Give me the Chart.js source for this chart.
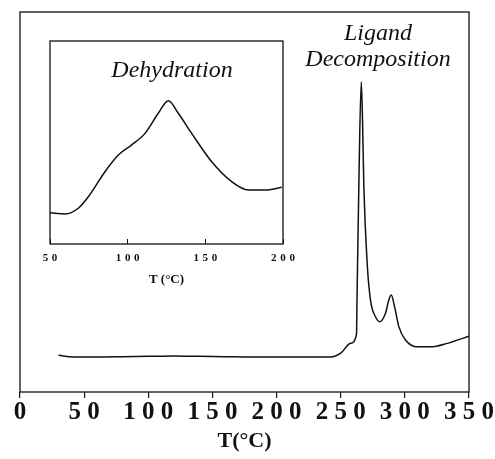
<!DOCTYPE html>
<html>
<head>
<meta charset="utf-8">
<script src="https://cdn.jsdelivr.net/npm/chart.js@4"></script>
<style>
  body { margin: 0; background: #fff; }
  #wrap { position: relative; width: 495px; height: 459px; }
  #mainChart { position: absolute; left: 0; top: 0; }
  #insetChart { position: absolute; left: 30px; top: 30px; }
</style>
</head>
<body>
<div id="wrap">
  <canvas id="mainChart" width="495" height="459"></canvas>
  <canvas id="insetChart" width="265" height="262"></canvas>
</div>
<script>
// main DSC trace
const mainTemp = [30, 42, 60, 80, 100, 120, 140, 160, 180, 200, 220, 242, 250, 257.6, 262.3, 262.7, 264.2, 266.0, 267.0, 268.0, 270.6, 273.2, 277.1, 280.5, 284.9, 287.5, 289.4, 292.0, 295.3, 300.5, 309.7, 320.1, 333.1, 350];
const mainSignal = [9.7, 9.2, 9.2, 9.3, 9.4, 9.5, 9.4, 9.3, 9.2, 9.2, 9.2, 9.2, 10.2, 12.8, 15.2, 24.2, 55.8, 81.6, 71.6, 54.5, 34.0, 24.2, 19.8, 18.5, 20.7, 24.2, 25.5, 22.4, 17.2, 13.7, 11.9, 11.9, 12.8, 14.7];
const mainTicks = [0, 50, 100, 150, 200, 250, 300, 350];

// inset: dehydration region
const insetTemp = [50, 59.7, 68.2, 74.7, 85.4, 94.0, 102.6, 111.2, 119.7, 126.2, 132.6, 141.2, 154.1, 167.0, 177.7, 188.4, 199.2];
const insetSignal = [15.4, 14.8, 17.6, 23.3, 35.6, 43.8, 48.8, 54.5, 64.4, 70.6, 64.4, 54.5, 40.5, 30.7, 26.6, 26.6, 27.9];
const insetTicks = [50, 100, 150, 200];

// digits printed with gaps, like the original
const spaced = (v, gap) => String(v).split('').join(gap);

// box round the plot area
const frame = {
  id: 'frame',
  afterDraw(chart) {
    const a = chart.chartArea, c = chart.ctx;
    c.save();
    c.strokeStyle = '#111';
    c.lineWidth = 1.3;
    c.strokeRect(a.left, a.top, a.right - a.left, a.bottom - a.top);
    c.restore();
  }
};

const labels = {
  id: 'labels',
  afterDraw(chart) {
    const c = chart.ctx;
    c.save();
    c.fillStyle = '#111';
    c.font = 'italic 24px "Liberation Serif"';
    c.textAlign = 'center';
    c.textBaseline = 'alphabetic';
    c.fillText('Ligand', 378, 40);
    c.fillText('Decomposition', 378, 66);
    c.restore();
  }
};

const insetLabel = {
  id: 'insetLabel',
  afterDraw(chart) {
    const c = chart.ctx;
    c.save();
    c.fillStyle = '#111';
    c.font = 'italic 24px "Liberation Serif"';
    c.textAlign = 'center';
    c.fillText('Dehydration', 172 - 30, 77 - 30);
    c.restore();
  }
};

// keep the plot box where it is, labels may hang over the edge
const noPad = s => { s.paddingLeft = 0; s.paddingRight = 0; };

new Chart(document.getElementById('mainChart'), {
  type: 'line',
  data: {
    datasets: [{
      data: mainTemp.map((t, i) => ({ x: t, y: mainSignal[i] })),
      borderColor: '#111',
      borderWidth: 1.5,
      pointRadius: 0,
      cubicInterpolationMode: 'monotone'
    }]
  },
  options: {
    responsive: false,
    animation: false,
    layout: { padding: { left: 20, right: 26, top: 12, bottom: 0 } },
    plugins: { legend: { display: false }, tooltip: { enabled: false } },
    scales: {
      x: {
        type: 'linear', min: 0, max: 350,
        afterBuildTicks: s => { s.ticks = mainTicks.map(v => ({ value: v })); },
        afterFit: s => { s.height = 67; noPad(s); },
        border: { display: false },
        grid: { drawOnChartArea: false, tickLength: 6, color: '#111', lineWidth: 1.2 },
        ticks: {
          padding: 0, color: '#111', maxRotation: 0, autoSkip: false,
          font: { family: '"Liberation Serif"', size: 25, weight: 'bold' },
          callback: v => spaced(v, ' ')
        },
        title: {
          display: true, text: 'T(°C)', color: '#111',
          font: { family: '"Liberation Serif"', size: 22, weight: 'bold' },
          padding: { top: 0, bottom: 4 }
        }
      },
      y: { display: false, min: 0, max: 100 }
    }
  },
  plugins: [frame, labels]
});

new Chart(document.getElementById('insetChart'), {
  type: 'line',
  data: {
    datasets: [{
      data: insetTemp.map((t, i) => ({ x: t, y: insetSignal[i] })),
      borderColor: '#111',
      borderWidth: 1.5,
      pointRadius: 0,
      cubicInterpolationMode: 'monotone'
    }]
  },
  options: {
    responsive: false,
    animation: false,
    layout: { padding: { left: 20, right: 12, top: 11, bottom: 0 } },
    plugins: { legend: { display: false }, tooltip: { enabled: false } },
    scales: {
      x: {
        type: 'linear', min: 50, max: 200,
        afterBuildTicks: s => { s.ticks = insetTicks.map(v => ({ value: v })); },
        afterFit: s => { s.height = 48; noPad(s); },
        border: { display: false },
        grid: { drawOnChartArea: false, tickLength: -5, color: '#111', lineWidth: 1 },
        ticks: {
          padding: 13, color: '#111', maxRotation: 0, autoSkip: false,
          font: { family: '"Liberation Serif"', size: 11, weight: 'bold' },
          callback: v => spaced(v, '\u2004')
        },
        title: {
          display: true, text: 'T (°C)', color: '#111',
          font: { family: '"Liberation Serif"', size: 13, weight: 'bold' },
          padding: { top: 0, bottom: 5 }
        }
      },
      y: { display: false, min: 0, max: 100 }
    }
  },
  plugins: [frame, insetLabel]
});
</script>
</body>
</html>
